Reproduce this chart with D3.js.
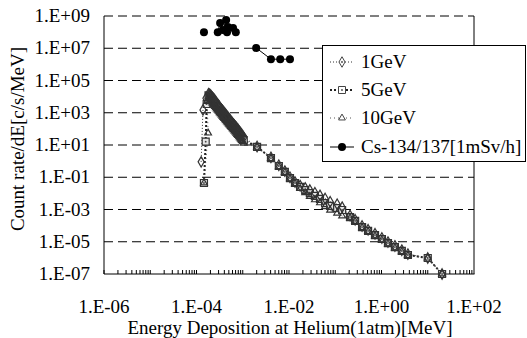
<!DOCTYPE html>
<html>
<head>
<meta charset="utf-8">
<script src="https://cdn.jsdelivr.net/npm/d3@7"></script>
<style>
  body { margin: 0; background: #fff; }
  svg text { font-family: "Liberation Serif", "Times New Roman", serif; fill: #000; }
</style>
</head>
<body>
<svg id="chart" width="527" height="338"></svg>
<script>
// energy bins shared by the three beam energies (MeV)
const commonE = [1.82e-4, 1.91e-4, 2.0e-4, 2.09e-4, 2.19e-4, 2.29e-4, 2.4e-4, 2.51e-4, 2.63e-4, 2.75e-4,
  2.88e-4, 3.02e-4, 3.16e-4, 3.31e-4, 3.47e-4, 3.63e-4, 3.8e-4, 3.98e-4, 4.17e-4, 4.37e-4,
  4.57e-4, 4.79e-4, 5.01e-4, 5.25e-4, 5.5e-4, 5.75e-4, 6.03e-4, 6.31e-4, 6.61e-4, 6.92e-4,
  7.24e-4, 7.59e-4, 7.94e-4, 8.32e-4, 8.71e-4, 9.12e-4, 9.55e-4, 1.0e-3, 1.05e-3,
  2.04e-3, 4.07e-3, 6.03e-3, 8.13e-3, 1.05e-2, 1.35e-2, 1.74e-2, 2.24e-2, 2.82e-2, 3.63e-2,
  4.68e-2, 6.03e-2, 7.76e-2, 0.11, 0.141, 0.209, 0.269, 0.38, 0.513, 0.724,
  1.02, 1.38, 1.95, 2.75, 3.72, 10, 20.4];

// onset points (low side of the peak)
const onsetE1 = [1.26e-4, 1.38e-4, 1.6e-4];
const onsetRate1 = [0.9, 1.5e3, 8e3];
const onsetE5 = [1.45e-4, 1.58e-4, 1.66e-4];
const onsetRate5 = [0.044, 16, 3.5e3];
const onsetE10 = [1.45e-4, 1.78e-4, 1.7e-4];
const onsetRate10 = [0.044, 55, 5e3];

const rate1 = [1.5e4, 1.4e4, 1.25e4, 1.1e4, 9.2e3, 7.8e3, 6.6e3, 5.6e3, 4.7e3, 3.9e3,
  3.3e3, 2.8e3, 2.35e3, 1.95e3, 1.65e3, 1.4e3, 1.18e3, 1.0e3, 850, 720,
  610, 520, 440, 375, 320, 272, 232, 198, 168, 143,
  122, 104, 88, 74, 62, 52, 43, 36, 30,
  8.0, 1.7, 0.55, 0.24, 0.1, 0.05, 0.03, 0.022, 0.016, 0.011,
  7.5e-3, 4.8e-3, 3.0e-3, 2.1e-3, 1.4e-3, 4.2e-4, 2.3e-4, 9.5e-5, 5.5e-5, 3.1e-5,
  1.7e-5, 9.5e-6, 5.5e-6, 3.0e-6, 1.7e-6, 9.8e-7, 1.0e-7];
const rate5 = [1.2e4, 1.05e4, 8.9e3, 7.6e3, 6.3e3, 5.25e3, 4.47e3, 3.8e3, 3.16e3, 2.63e3,
  2.24e3, 1.9e3, 1.58e3, 1.32e3, 1.12e3, 955, 794, 676, 575, 490,
  417, 355, 302, 257, 219, 186, 158, 135, 115, 98,
  83, 71, 60, 50, 42, 35, 29, 24, 20,
  7.6, 1.55, 0.50, 0.214, 0.089, 0.044, 0.025, 0.016, 0.0105, 6.9e-3,
  4.5e-3, 2.5e-3, 1.66e-3, 1.23e-3, 9.3e-4, 3.4e-4, 1.95e-4, 8.1e-5, 4.7e-5, 2.6e-5,
  1.48e-5, 8.3e-6, 4.7e-6, 2.7e-6, 1.51e-6, 9.8e-7, 1.0e-7];
const rate10 = [9.5e3, 7.5e3, 6.0e3, 5.0e3, 4.1e3, 3.4e3, 2.9e3, 2.45e3, 2.05e3, 1.7e3,
  1.45e3, 1.23e3, 1.02e3, 860, 730, 620, 515, 440, 375, 318,
  270, 230, 196, 167, 142, 121, 103, 88, 75, 64,
  54, 46, 39, 33, 27, 23, 19, 16, 13,
  7.2, 1.45, 0.46, 0.2, 0.08, 0.04, 0.02, 0.011, 6.5e-3, 4.0e-3,
  2.6e-3, 1.5e-3, 9.0e-4, 6.0e-4, 4.0e-4, 3.0e-4, 1.8e-4, 7.5e-5, 4.3e-5, 2.3e-5,
  1.3e-5, 7.4e-6, 4.2e-6, 2.4e-6, 1.4e-6, 9.8e-7, 1.0e-7];

// Cs-134/137 reference spectrum (null = break in the line)
const csE = [1.45e-4, null, 2.88e-4, 3.24e-4, 3.72e-4, 4.37e-4, 4.57e-4, 4.79e-4, 6.17e-4, 7.08e-4,
  null, 1.95e-3, 4.07e-3, 6.46e-3, 1.05e-2];
const csRate = [1.0e8, null, 1.0e8, 3.7e8, 1.35e8, 5.6e8, 1.0e8, 2.1e8, 1.8e8, 1.0e8,
  null, 1.05e7, 2.1e6, 2.1e6, 2.1e6];

const xTickVals = [1e-6, 1e-4, 1e-2, 1e0, 1e2];
const xTickLabels = ["1.E-06", "1.E-04", "1.E-02", "1.E+00", "1.E+02"];
const yTickVals = [1e9, 1e7, 1e5, 1e3, 1e1, 1e-1, 1e-3, 1e-5, 1e-7];
const yTickLabels = ["1.E+09", "1.E+07", "1.E+05", "1.E+03", "1.E+01", "1.E-01", "1.E-03", "1.E-05", "1.E-07"];

const legendNames = ["1GeV", "5GeV", "10GeV", "Cs-134/137[1mSv/h]"];

const svg = d3.select("#chart");
const plot = { left: 104, right: 474, top: 16, bottom: 274 };
const fs = 19;

const x = d3.scaleLog().domain([1e-6, 1e2]).range([plot.left, plot.right]);
const y = d3.scaleLog().domain([1e-7, 1e9]).range([plot.bottom, plot.top]);

// gridlines
svg.append("g").selectAll("line")
  .data(yTickVals.filter(v => v > 1e-7))
  .join("line")
  .attr("x1", plot.left).attr("x2", plot.right)
  .attr("y1", d => y(d)).attr("y2", d => y(d))
  .attr("stroke", "#000").attr("stroke-width", 1)
  .attr("stroke-dasharray", "9,5");

// right border
svg.append("line")
  .attr("x1", plot.right).attr("x2", plot.right)
  .attr("y1", plot.top).attr("y2", plot.bottom)
  .attr("stroke", "#000");

// x axis with inward minor ticks
const minorTicks = [];
for (let e = -6; e < 2; e++) for (let m = 1; m <= 9; m++) minorTicks.push(m * Math.pow(10, e));
svg.append("g").selectAll("line")
  .data(minorTicks)
  .join("line")
  .attr("x1", d => x(d)).attr("x2", d => x(d))
  .attr("y1", plot.bottom).attr("y2", d => plot.bottom - 4)
  .attr("stroke", "#000");

svg.append("line")
  .attr("x1", plot.left).attr("x2", plot.right + 0.5)
  .attr("y1", plot.bottom).attr("y2", plot.bottom)
  .attr("stroke", "#000");
svg.append("line")
  .attr("x1", plot.left).attr("x2", plot.left)
  .attr("y1", plot.top).attr("y2", plot.bottom)
  .attr("stroke", "#000");

svg.append("g").selectAll("text")
  .data(xTickVals)
  .join("text")
  .attr("x", d => x(d)).attr("y", 313)
  .attr("text-anchor", "middle")
  .attr("font-size", fs)
  .text((d, i) => xTickLabels[i]);

svg.append("g").selectAll("text")
  .data(yTickVals)
  .join("text")
  .attr("x", 90).attr("y", d => y(d) + 6)
  .attr("text-anchor", "end")
  .attr("font-size", fs)
  .text((d, i) => yTickLabels[i]);

svg.append("text")
  .attr("x", 290).attr("y", 334)
  .attr("text-anchor", "middle").attr("font-size", fs)
  .text("Energy Deposition at Helium(1atm)[MeV]");

svg.append("text")
  .attr("transform", "translate(24,139) rotate(-90)")
  .attr("text-anchor", "middle").attr("font-size", fs)
  .text("Count rate/dE[c/s/MeV]");

// series
const series = [
  { E: onsetE1.concat(commonE), R: onsetRate1.concat(rate1), sym: d3.symbolDiamond, size: 32, dash: "1,2", width: 1, color: "#333", fill: "none" },
  { E: onsetE5.concat(commonE), R: onsetRate5.concat(rate5), sym: d3.symbolSquare, size: 49, dash: "2,2", width: 2, color: "#222", fill: "#e4e4e4" },
  { E: onsetE10.concat(commonE), R: onsetRate10.concat(rate10), sym: d3.symbolTriangle, size: 20, dash: "1,3", width: 1, color: "#555", fill: "none" }
];

const line = d3.line().x(d => x(d[0])).y(d => y(d[1]));

series.forEach(s => {
  const pts = s.E.map((e, i) => [e, s.R[i]]);
  svg.append("path")
    .datum(pts)
    .attr("d", line)
    .attr("fill", "none")
    .attr("stroke", s.color)
    .attr("stroke-width", s.width)
    .attr("stroke-dasharray", s.dash);
});

// squares underneath, diamonds and triangles on top
[1, 0, 2].forEach(k => {
  const s = series[k];
  const pts = s.E.map((e, i) => [e, s.R[i]]);
  const g = svg.append("g");
  g.selectAll("path")
    .data(pts)
    .join("path")
    .attr("transform", d => `translate(${x(d[0])},${y(d[1])})`)
    .attr("d", d3.symbol(s.sym, s.size))
    .attr("fill", s.fill)
    .attr("stroke", "#333")
    .attr("stroke-width", 1.2);
  if (k === 1) {
    g.selectAll("circle")
      .data(pts)
      .join("circle")
      .attr("cx", d => x(d[0])).attr("cy", d => y(d[1]))
      .attr("r", 0.9).attr("fill", "#444");
  }
});

// Cs line + dots
const csPts = csE.map((e, i) => [e, csRate[i]]);
svg.append("path")
  .datum(csPts)
  .attr("d", d3.line().defined(d => d[0] != null).x(d => x(d[0])).y(d => y(d[1])))
  .attr("fill", "none").attr("stroke", "#000").attr("stroke-width", 1);
svg.append("g").selectAll("circle")
  .data(csPts.filter(d => d[0] != null))
  .join("circle")
  .attr("cx", d => x(d[0])).attr("cy", d => y(d[1]))
  .attr("r", 4).attr("fill", "#000");

// legend
const legend = svg.append("g");
legend.append("rect")
  .attr("x", 322.5).attr("y", 45.5).attr("width", 203).attr("height", 116)
  .attr("fill", "#fff").attr("stroke", "#000");

const legendY = [62, 90, 118, 147];
legendNames.forEach((name, i) => {
  const ly = legendY[i];
  const s = series[i];
  legend.append("line")
    .attr("x1", 330).attr("x2", 354).attr("y1", ly).attr("y2", ly)
    .attr("stroke", s ? s.color : "#000")
    .attr("stroke-width", s ? s.width : 1)
    .attr("stroke-dasharray", s ? s.dash : null);
  if (s) {
    legend.append("path")
      .attr("transform", `translate(342,${ly})`)
      .attr("d", d3.symbol(s.sym, s.size))
      .attr("fill", "#fff").attr("stroke", "#444");
    legend.append("circle").attr("cx", 342).attr("cy", ly).attr("r", i < 2 ? 0.9 : 0).attr("fill", "#444");
  } else {
    legend.append("circle").attr("cx", 342).attr("cy", ly).attr("r", 4).attr("fill", "#000");
  }
  legend.append("text")
    .attr("x", 361).attr("y", ly + 6)
    .attr("font-size", fs)
    .text(name);
});
</script>
</body>
</html>
